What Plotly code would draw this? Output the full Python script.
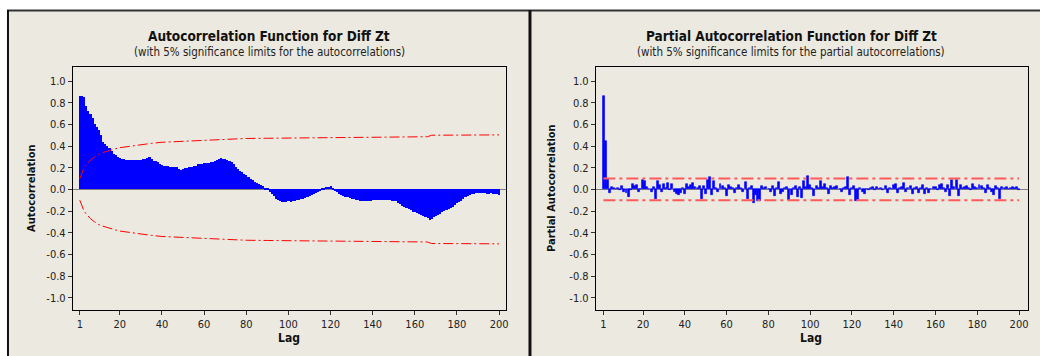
import plotly.graph_objects as go

W, H = 1042, 356

# ---------------- data ----------------
acf_values = [
    0.86, 0.86, 0.85, 0.77, 0.72, 0.70, 0.66, 0.60, 0.58, 0.55,      # 1-10
    0.50, 0.44, 0.42, 0.40, 0.38, 0.355, 0.33, 0.32, 0.30, 0.29,     # 11-20
    0.285, 0.28, 0.275, 0.27, 0.27, 0.27, 0.27, 0.27, 0.27, 0.275,   # 21-30
    0.28, 0.285, 0.29, 0.295, 0.28, 0.265, 0.26, 0.25, 0.235, 0.225, # 31-40
    0.22, 0.22, 0.215, 0.21, 0.21, 0.21, 0.205, 0.185, 0.18, 0.19,   # 41-50
    0.195, 0.20, 0.205, 0.21, 0.215, 0.22, 0.23, 0.235, 0.235, 0.24, # 51-60
    0.24, 0.245, 0.25, 0.255, 0.26, 0.27, 0.28, 0.29, 0.285, 0.28,   # 61-70
    0.27, 0.26, 0.25, 0.23, 0.205, 0.19, 0.17, 0.16, 0.145, 0.13,    # 71-80
    0.115, 0.10, 0.085, 0.07, 0.06, 0.05, 0.04, 0.03, 0.015, 0.005,  # 81-90
    -0.02, -0.045, -0.065, -0.09, -0.10, -0.11, -0.115, -0.115, -0.115, -0.11,  # 91-100
    -0.115, -0.11, -0.105, -0.10, -0.095, -0.09, -0.085, -0.08, -0.07, -0.065,  # 101-110
    -0.055, -0.045, -0.035, -0.02, -0.01, 0.005, 0.015, 0.02, 0.025, 0.03,      # 111-120
    0.01, -0.01, -0.025, -0.04, -0.05, -0.06, -0.07, -0.075, -0.08, -0.085,     # 121-130
    -0.09, -0.095, -0.10, -0.105, -0.11, -0.11, -0.105, -0.11, -0.105, -0.10,   # 131-140
    -0.10, -0.10, -0.10, -0.10, -0.10, -0.10, -0.10, -0.10, -0.105, -0.105,     # 141-150
    -0.11, -0.125, -0.135, -0.15, -0.16, -0.175, -0.185, -0.195, -0.205, -0.21, # 151-160
    -0.22, -0.225, -0.235, -0.245, -0.255, -0.265, -0.28, -0.27, -0.255, -0.245, # 161-170
    -0.235, -0.225, -0.21, -0.20, -0.19, -0.18, -0.17, -0.16, -0.145, -0.13,    # 171-180
    -0.12, -0.105, -0.09, -0.075, -0.065, -0.055, -0.045, -0.04, -0.035, -0.03, # 181-190
    -0.03, -0.035, -0.035, -0.04, -0.04, -0.035, -0.04, -0.04, -0.045, -0.05,   # 191-200
]

pacf_values = [
    0.86, 0.45, 0.10, -0.03, 0.02, 0.01, 0.00, 0.01, -0.01, 0.03,    # 1-10
    -0.02, -0.03, -0.07, -0.01, 0.05, 0.03, 0.04, -0.02, 0.00, 0.09, # 11-20
    0.08, 0.02, 0.00, -0.02, 0.02, -0.09, 0.08, 0.04, -0.02, 0.05,   # 21-30
    0.01, 0.06, -0.01, 0.05, -0.02, -0.04, -0.05, -0.03, 0.01, -0.04, # 31-40
    0.05, 0.02, 0.04, 0.06, 0.02, 0.01, 0.03, -0.09, 0.03, -0.04,    # 41-50
    0.09, 0.11, -0.05, 0.08, 0.01, -0.02, 0.05, 0.03, 0.01, -0.06,   # 51-60
    0.04, 0.02, 0.01, -0.03, 0.01, 0.04, 0.01, -0.02, 0.07, -0.09,   # 61-70
    0.01, 0.03, -0.13, -0.05, -0.11, -0.11, 0.03, 0.01, 0.02, 0.00,  # 71-80
    -0.02, 0.03, -0.06, 0.01, 0.07, -0.04, -0.02, 0.01, 0.02, -0.10, # 81-90
    -0.05, 0.01, 0.03, -0.07, 0.02, -0.08, 0.08, 0.02, 0.12, 0.04,   # 91-100
    0.01, -0.06, 0.03, 0.01, 0.08, 0.02, 0.05, 0.01, -0.04, 0.03,    # 101-110
    0.01, 0.02, 0.03, 0.00, -0.02, 0.01, 0.02, 0.11, -0.05, 0.01,    # 111-120
    0.03, -0.11, -0.10, 0.01, -0.02, -0.04, 0.00, -0.01, 0.01, 0.02, # 121-130
    -0.01, 0.02, 0.00, 0.01, -0.01, 0.03, -0.03, 0.01, 0.00, 0.04,   # 131-140
    0.05, -0.03, 0.01, 0.02, 0.06, -0.02, 0.01, 0.03, -0.04, 0.01,   # 141-150
    0.02, -0.03, 0.01, 0.04, -0.04, 0.01, -0.03, 0.00, 0.02, 0.02,   # 151-160
    -0.01, 0.04, 0.05, 0.01, -0.02, 0.04, -0.06, 0.09, 0.02, 0.09,   # 161-170
    -0.06, 0.04, 0.01, 0.02, 0.03, 0.01, -0.01, 0.05, 0.02, 0.01,    # 171-180
    0.04, 0.03, 0.01, -0.03, 0.04, 0.01, -0.02, -0.05, 0.03, 0.01,   # 181-190
    -0.09, 0.02, 0.01, 0.02, 0.00, 0.01, 0.02, 0.01, 0.02, -0.01,    # 191-200
]

acf_lags = list(range(1, len(acf_values) + 1))
pacf_lags = list(range(1, len(pacf_values) + 1))

# 5% significance limit of the ACF, read at selected lags (symmetric +/-)
acf_limit_lags = [1, 2, 3, 4, 5, 6, 8, 10, 12, 15, 18, 20, 25, 30, 35, 40,
                  50, 60, 70, 80, 90, 100, 120, 140, 160, 166, 168, 180, 200]
acf_limit_vals = [0.10, 0.157, 0.20, 0.225, 0.25, 0.27, 0.30, 0.325, 0.34, 0.36,
                  0.375, 0.385, 0.40, 0.415, 0.425, 0.435, 0.445, 0.452, 0.462,
                  0.47, 0.472, 0.474, 0.478, 0.481, 0.484, 0.486, 0.50, 0.502, 0.503]
pacf_limit = 0.10
pacf_limit_lags = [1, 200]

x_ticks = [1, 20, 40, 60, 80, 100, 120, 140, 160, 180, 200]
y_ticks = [-1.0, -0.8, -0.6, -0.4, -0.2, 0.0, 0.2, 0.4, 0.6, 0.8, 1.0]
y_ticktext = ["%.1f" % v for v in y_ticks]

titles = ["Autocorrelation Function for Diff Zt",
          "Partial Autocorrelation Function for Diff Zt"]
subtitles = ["(with 5% significance limits for the autocorrelations)",
             "(with 5% significance limits for the partial autocorrelations)"]
y_titles = ["Autocorrelation", "Partial Autocorrelation"]
x_title = "Lag"

# ---------------- figure ----------------
FONT = "DejaVu Sans Condensed, DejaVu Sans, Verdana, sans-serif"
BLUE = "#0000FF"
BEIGE = "#ECE9E0"

fig = go.Figure()

fig.add_trace(go.Bar(x=acf_lags, y=acf_values, width=1.0, marker_color=BLUE,
                     marker_line_width=0, xaxis="x", yaxis="y", showlegend=False))
fig.add_trace(go.Scatter(x=acf_limit_lags, y=acf_limit_vals, mode="lines",
                         line=dict(color="#FF0000", width=1, dash="10px,3px,2px,3px"),
                         xaxis="x", yaxis="y", showlegend=False))
fig.add_trace(go.Scatter(x=acf_limit_lags, y=[-v for v in acf_limit_vals], mode="lines",
                         line=dict(color="#FF0000", width=1, dash="10px,3px,2px,3px"),
                         xaxis="x", yaxis="y", showlegend=False))

fig.add_trace(go.Bar(x=pacf_lags, y=pacf_values, width=0.95, marker_color=BLUE,
                     marker_line=dict(color=BLUE, width=0.6),
                     xaxis="x2", yaxis="y2", showlegend=False))
for s in (1, -1):
    fig.add_trace(go.Scatter(x=pacf_limit_lags, y=[s * pacf_limit] * 2, mode="lines",
                             line=dict(color="#FF5A5A", width=2, dash="12px,4px,3px,4px"),
                             xaxis="x2", yaxis="y2", showlegend=False))

def px_x(p):
    return p / W

def px_y(p):
    return 1 - p / H

axis_common = dict(showgrid=False, showline=True, linecolor="black", linewidth=1,
                   mirror=True, ticks="outside", ticklen=4, tickcolor="#333333",
                   tickfont=dict(family=FONT, size=11, color="#222222"))

fig.update_layout(
    width=W, height=H,
    margin=dict(l=0, r=0, t=0, b=0),
    paper_bgcolor="white",
    plot_bgcolor="white",
    bargap=0,
    font=dict(family=FONT),
    xaxis=dict(domain=[px_x(73), px_x(507)], range=[-2.3, 203.3], anchor="y",
               tickvals=x_ticks, zeroline=False, **axis_common),
    yaxis=dict(domain=[px_y(310), px_y(67)], range=[-1.114, 1.13], anchor="x",
               tickvals=y_ticks, ticktext=y_ticktext, zeroline=True,
               zerolinecolor="#808080", zerolinewidth=1, **axis_common),
    xaxis2=dict(domain=[px_x(597), px_x(1030)], range=[-2.6, 204.3], anchor="y2",
                tickvals=x_ticks, zeroline=False, **axis_common),
    yaxis2=dict(domain=[px_y(310), px_y(67)], range=[-1.114, 1.13], anchor="x2",
                tickvals=y_ticks, ticktext=y_ticktext, zeroline=True,
                zerolinecolor="#808080", zerolinewidth=1, **axis_common),
)

# panel backgrounds / borders
shapes = [
    dict(type="rect", xref="paper", yref="paper", x0=px_x(8), x1=1, y0=0, y1=px_y(10),
         fillcolor=BEIGE, line_width=0, layer="below"),
    dict(type="line", xref="paper", yref="paper", x0=px_x(7), x1=1, y0=px_y(10.5), y1=px_y(10.5),
         line=dict(color="#333333", width=2), layer="above"),
    dict(type="line", xref="paper", yref="paper", x0=px_x(8), x1=px_x(8), y0=0, y1=px_y(10),
         line=dict(color="#111111", width=2), layer="above"),
    dict(type="line", xref="paper", yref="paper", x0=px_x(531), x1=px_x(531), y0=0, y1=px_y(10),
         line=dict(color="#111111", width=3), layer="above"),
]
fig.update_layout(shapes=shapes)

annotations = []
for cx, t, st in [(270, titles[0], subtitles[0]), (793, titles[1], subtitles[1])]:
    annotations.append(dict(x=px_x(cx), y=px_y(36), xref="paper", yref="paper",
                            text="<b>%s</b>" % t, showarrow=False, xanchor="center",
                            yanchor="middle", font=dict(family=FONT, size=13.5, color="#111111")))
    annotations.append(dict(x=px_x(cx), y=px_y(52), xref="paper", yref="paper",
                            text=st, showarrow=False, xanchor="center", yanchor="middle",
                            font=dict(family=FONT, size=11.5, color="#222222")))
for cx, t in [(32, y_titles[0]), (553, y_titles[1])]:
    annotations.append(dict(x=px_x(cx), y=px_y(188), xref="paper", yref="paper",
                            text="<b>%s</b>" % t, showarrow=False, textangle=-90,
                            xanchor="center", yanchor="middle",
                            font=dict(family=FONT, size=11, color="#111111")))
for cx in (290, 813):
    annotations.append(dict(x=px_x(cx), y=px_y(338), xref="paper", yref="paper",
                            text="<b>%s</b>" % x_title, showarrow=False, xanchor="center",
                            yanchor="middle", font=dict(family=FONT, size=12, color="#111111")))
fig.update_layout(annotations=annotations)

fig.write_html("out.html")
